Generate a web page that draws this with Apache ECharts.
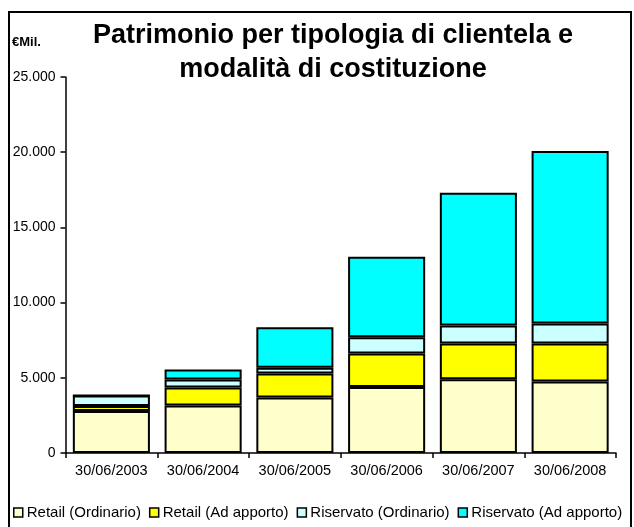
<!DOCTYPE html>
<html>
<head>
<meta charset="utf-8">
<script src="https://cdn.jsdelivr.net/npm/echarts@6/dist/echarts.min.js"></script>
<style>
  html, body { margin: 0; padding: 0; background: #fff; }
  #chart { width: 634px; height: 527px; }
</style>
</head>
<body>
<div id="chart"></div>
<script>
const categories = ['30/06/2003', '30/06/2004', '30/06/2005', '30/06/2006', '30/06/2007', '30/06/2008']
const retailOrdinario = [2800, 3150, 3690, 4380, 4910, 4750]
const retailApporto = [330, 1200, 1600, 2240, 2370, 2530]
const riservatoOrdinario = [690, 530, 380, 1070, 1200, 1330]
const riservatoApporto = [0, 670, 2690, 5360, 8830, 11470]
const seriesNames = ['Retail (Ordinario)', 'Retail (Ad apporto)', 'Riservato (Ordinario)', 'Riservato (Ad apporto)']
const seriesColors = ['#FFFFCC', '#FFFF00', '#CCFFFF', '#00FFFF']
const yTicks = { min: 0, max: 25000, interval: 5000 }

const font = '"Liberation Sans", Arial, sans-serif'
const allData = [retailOrdinario, retailApporto, riservatoOrdinario, riservatoApporto]

function fmt(v) {
  // thousands with a dot, as in the original
  return String(v).replace(/\B(?=(\d{3})+(?!\d))/g, '.')
}

const chart = echarts.init(document.getElementById('chart'))
chart.setOption({
  animation: false,
  backgroundColor: '#fff',
  textStyle: { fontFamily: font },
  title: {
    text: 'Patrimonio per tipologia di clientela e\nmodalità di costituzione',
    left: 333,
    top: 19,
    padding: 0,
    textAlign: 'center',
    textStyle: {
      fontFamily: font,
      fontSize: 27,
      fontWeight: 'bold',
      color: '#000',
      lineHeight: 34,
    },
  },
  graphic: [
    {
      type: 'rect',
      shape: { x: 9, y: 12, width: 622, height: 530 },
      style: { fill: null, stroke: '#000', lineWidth: 2 },
      z: 100,
    },
    {
      type: 'text',
      left: 12,
      top: 36,
      style: { text: '€Mil.', font: 'bold 13px ' + font, fill: '#000' },
    },
  ],
  grid: {
    left: 65.5,
    right: 18,
    top: 77,
    bottom: 74,
  },
  legend: {
    data: seriesNames,
    left: 8,
    top: 500,
    icon: 'rect',
    itemWidth: 9,
    itemHeight: 9,
    itemGap: 8,
    itemStyle: { borderColor: '#000', borderWidth: 1.5 },
    textStyle: { fontFamily: font, fontSize: 15, color: '#000', padding: [0, 0, 0, -1] },
  },
  xAxis: {
    type: 'category',
    data: categories,
    axisLine: { lineStyle: { color: '#000', width: 1.5 } },
    axisTick: { show: true, interval: 0, length: 5, lineStyle: { color: '#000', width: 1.5 } },
    axisLabel: { interval: 0, hideOverlap: false, color: '#000', fontSize: 14.5, margin: 10, fontFamily: font },
  },
  yAxis: {
    type: 'value',
    min: yTicks.min,
    max: yTicks.max,
    interval: yTicks.interval,
    splitLine: { show: false },
    axisLine: { show: true, lineStyle: { color: '#000', width: 1.5 } },
    axisTick: { show: true, length: 5, lineStyle: { color: '#000', width: 1.5 } },
    axisLabel: { color: '#000', fontSize: 14, margin: 10, fontFamily: font, formatter: fmt },
  },
  series: seriesNames.map((name, i) => ({
    name: name,
    type: 'bar',
    stack: 'tot',
    data: allData[i],
    barCategoryGap: '16%',
    itemStyle: {
      color: seriesColors[i],
      borderColor: '#000',
      borderWidth: 2,
    },
  })),
})
</script>
</body>
</html>
